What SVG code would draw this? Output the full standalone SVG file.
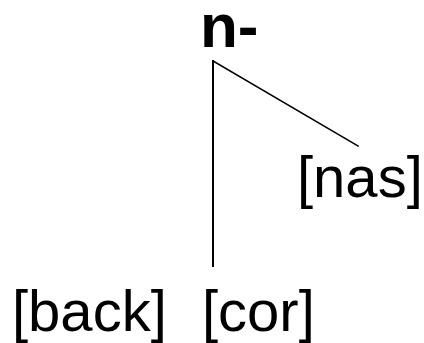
<svg xmlns="http://www.w3.org/2000/svg" width="424" height="343" viewBox="0 0 424 343">
  <style>
    .lbl { font-family: "Liberation Sans", Arial, sans-serif; font-size: 58px; fill: #000; }
    .bold { font-weight: bold; font-size: 62px; }
    .edge { stroke: #000; stroke-width: 2; fill: none; stroke-linecap: square; }
  </style>
  <rect width="424" height="343" fill="#fff"/>
  <g id="connectors">
    <line class="edge" x1="213" y1="61" x2="213" y2="266"/>
    <line class="edge" x1="213" y1="61" x2="358" y2="146" style="stroke-width:1.6"/>
  </g>
  <g id="node-n">
    <text class="lbl bold" x="200" y="47">n-</text>
  </g>
  <g id="node-nas">
    <text class="lbl" x="297" y="197">[nas]</text>
  </g>
  <g id="node-back">
    <text class="lbl" x="12" y="331">[back]</text>
  </g>
  <g id="node-cor">
    <text class="lbl" x="202" y="331">[cor]</text>
  </g>
</svg>
